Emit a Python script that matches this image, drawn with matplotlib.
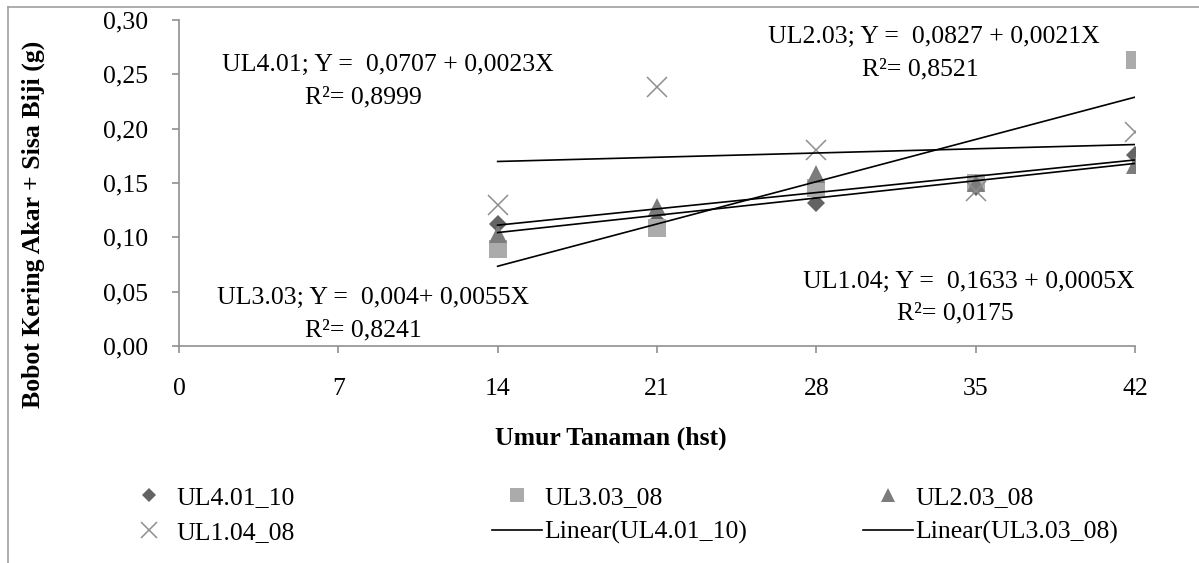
import numpy as np
import matplotlib
matplotlib.use("Agg")
import matplotlib.pyplot as plt
from matplotlib.lines import Line2D

plt.rcParams['font.family'] = ['Liberation Serif', 'DejaVu Serif']

# ---- data ----
days = [14, 21, 28, 35, 42]
ul401 = [0.112, 0.115, 0.132, 0.146, 0.176]
ul303 = [0.089, 0.109, 0.145, 0.150, 0.263]
ul203 = [0.103, 0.128, 0.158, 0.150, 0.167]
ul104 = [0.130, 0.238, 0.180, 0.143, 0.197]
series_names = ["UL4.01_10", "UL3.03_08", "UL2.03_08", "UL1.04_08"]
xticks = [0, 7, 14, 21, 28, 35, 42]
yticks = [0.00, 0.05, 0.10, 0.15, 0.20, 0.25, 0.30]
eq_labels = [
    ("UL4.01; Y =  0,0707 + 0,0023X", "R\u00b2= 0,8999"),
    ("UL3.03; Y =  0,004+ 0,0055X", "R\u00b2= 0,8241"),
    ("UL2.03; Y =  0,0827 + 0,0021X", "R\u00b2= 0,8521"),
    ("UL1.04; Y =  0,1633 + 0,0005X", "R\u00b2= 0,0175"),
]

W, H = 1199, 563
fig = plt.figure(figsize=(W / 100, H / 100), dpi=100)
fig.patch.set_facecolor('white')

def fx(px):
    return px / W

def fy(py):
    return 1 - py / H

# outer frame (left & top edges visible)
fig.add_artist(Line2D([fx(8), fx(8)], [fy(7), -0.05], color='#a0a0a0', lw=1.2, transform=fig.transFigure))
fig.add_artist(Line2D([fx(8), 1.05], [fy(7), fy(7)], color='#a0a0a0', lw=1.2, transform=fig.transFigure))

ax = fig.add_axes([fx(179), fy(346), fx(1135) - fx(179), (346 - 20) / H])

styles = [
    dict(marker='D', color='#636363', ms=9.5),
    dict(marker='s', color='#ababab', ms=12.5),
    dict(marker='^', color='#7c7c7c', ms=13),
    dict(marker='x', color='#8e8e8e', ms=14, mew=1.1),
]
data = [ul401, ul303, ul203, ul104]
handles = []
for vals, st, name in zip(data, styles, series_names):
    h, = ax.plot(days, vals, linestyle='none', marker=st['marker'], color=st['color'],
                 markersize=st['ms'], markeredgewidth=st.get('mew', 0), label=name, zorder=3)
    handles.append(h)

xs = np.array([days[0], days[-1]])
lin_handles = []
for vals, name in zip(data, series_names):
    b, a = np.polyfit(days, vals, 1)
    h, = ax.plot(xs, a + b * xs, color='black', lw=1.2, zorder=4, label=f"Linear({name})")
    lin_handles.append(h)

ax.set_xlim(0, 42)
ax.set_ylim(0, 0.30)
ax.set_xticks(xticks)
ax.set_xticklabels([str(t) for t in xticks])
ax.set_yticks(yticks)
ax.set_yticklabels([f"{t:.2f}".replace('.', ',') for t in yticks])
for s in ['top', 'right']:
    ax.spines[s].set_visible(False)
for s in ['left', 'bottom']:
    ax.spines[s].set_color('#909090')
    ax.spines[s].set_linewidth(1.2)
ax.tick_params(axis='y', direction='out', length=5, width=1.2, color='#909090', pad=17, labelsize=18.5)
ax.tick_params(axis='x', direction='out', length=5, width=1.2, color='#909090', pad=18, labelsize=18.5)

# axis titles
fig.text(fx(33), fy(224), "Bobot Kering Akar + Sisa Biji (g)", rotation=90, ha='center', va='center',
         fontsize=18.5, fontweight='bold')
fig.text(fx(611), fy(438), "Umur Tanaman (hst)", ha='center', va='center', fontsize=18.5, fontweight='bold')

# regression equation labels
eq_pos = [((222, 65), (305, 97)), ((217, 298), (305, 330)), ((768, 37), (862, 69)), ((803, 282), (897, 313))]
for (l1, l2), ((x1, y1), (x2, y2)) in zip(eq_labels, eq_pos):
    fig.text(fx(x1), fy(y1), l1, ha='left', va='center', fontsize=18.5)
    fig.text(fx(x2), fy(y2), l2, ha='left', va='center', fontsize=18.5)

# legend: three columns placed separately
cols = [
    ([handles[0], handles[3]], [series_names[0], series_names[3]], 124),
    ([handles[1], lin_handles[0]], [series_names[1], lin_handles[0].get_label()], 492),
    ([handles[2], lin_handles[1]], [series_names[2], lin_handles[1].get_label()], 863),
]
for hs, labs, x0 in cols:
    fig.legend(hs, labs, loc='center left', bbox_to_anchor=(fx(x0), fy(515)), frameon=False,
               fontsize=18.5, handlelength=1.95, handletextpad=0.1, borderpad=0, borderaxespad=0,
               labelspacing=0.46, markerscale=0.8)

fig.savefig("out.png", dpi=100, facecolor='white')
